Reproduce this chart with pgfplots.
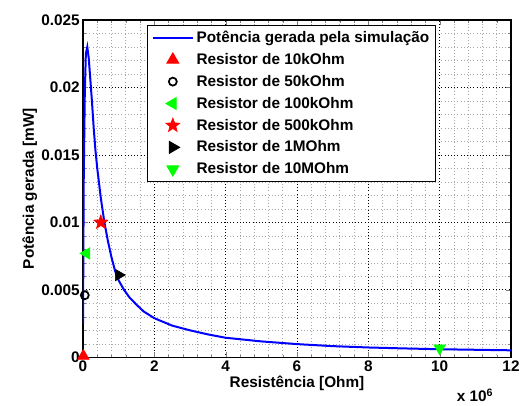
\documentclass[border=0pt]{standalone}
\usepackage{fontspec}
\setmainfont{Liberation Sans}
\usepackage{pgfplots}
\pgfplotsset{compat=1.18}
\pgfdeclareplotmark{fstar}{%
  \pgfpathmoveto{\pgfpointpolar{90}{\pgfplotmarksize}}%
  \pgfpathlineto{\pgfpointpolar{126}{0.42\pgfplotmarksize}}%
  \pgfpathlineto{\pgfpointpolar{162}{\pgfplotmarksize}}%
  \pgfpathlineto{\pgfpointpolar{198}{0.42\pgfplotmarksize}}%
  \pgfpathlineto{\pgfpointpolar{234}{\pgfplotmarksize}}%
  \pgfpathlineto{\pgfpointpolar{270}{0.42\pgfplotmarksize}}%
  \pgfpathlineto{\pgfpointpolar{306}{\pgfplotmarksize}}%
  \pgfpathlineto{\pgfpointpolar{342}{0.42\pgfplotmarksize}}%
  \pgfpathlineto{\pgfpointpolar{18}{\pgfplotmarksize}}%
  \pgfpathlineto{\pgfpointpolar{54}{0.42\pgfplotmarksize}}%
  \pgfpathclose
  \pgfusepathqfillstroke}
\begin{document}
\begin{tikzpicture}
\begin{axis}[
  scale only axis, width=321pt, height=253pt,
  xmin=0, xmax=12, ymin=0, ymax=0.025,
  xtick={0,2,...,12}, xticklabels={0,2,4,6,8,10,12},
  ytick={0,0.005,0.01,0.015,0.02,0.025},
  yticklabels={0,0.005,0.01,0.015,0.02,0.025},
  scaled y ticks=false,
  minor x tick num=4, minor y tick num=4,
  grid=both,
  major grid style={black, dotted, line width=0.6pt},
  minor grid style={black!35, dotted, line width=0.5pt},
  tick align=inside, axis line style={line width=1pt},
  major tick length=4pt, minor tick length=2pt,
  every tick label/.append style={font=\bfseries\fontsize{11.5}{13.5}\selectfont},
  xticklabel style={yshift=1pt}, yticklabel style={xshift=1pt},
  xlabel={Resistência [Ohm]}, ylabel={Potência gerada [mW]},
  label style={font=\bfseries\fontsize{11.5}{13.5}\selectfont},
  xlabel style={at={(rel axis cs:0.5,0)}, yshift=-19.5pt, anchor=center},
  ylabel style={at={(rel axis cs:0,0.5)}, yshift=40pt, anchor=center},
  legend style={at={(0.15,0.985)}, anchor=north west, draw=black, line width=0.8pt,
    font=\bfseries\fontsize{11.5}{13.5}\selectfont, row sep=2.6pt, inner xsep=3pt, inner ysep=2pt},
  legend cell align=left,
  legend image code/.code={\draw[mark repeat=2,mark phase=2,#1] plot coordinates {(0cm,0cm) (0.53cm,0cm) (1.06cm,0cm)};},
]
\addplot[blue, line width=1.5pt] coordinates {
(0.001,0.0025)(0.02,0.013)(0.05,0.0195)(0.08,0.0225)(0.12,0.023)(0.16,0.0222)
(0.2,0.0208)(0.25,0.0190)(0.3,0.0170)(0.35,0.0153)(0.4,0.0140)(0.5,0.0118)
(0.6,0.0100)(0.7,0.0086)(0.8,0.0074)(0.9,0.0064)(1.0,0.0057)(1.15,0.0050)
(1.3,0.00445)(1.5,0.0039)(1.7,0.0034)(2.0,0.0029)(2.5,0.00235)(3,0.0020)
(3.5,0.0017)(4,0.00145)(5,0.00118)(6,0.00098)(7,0.00083)(8,0.00073)
(9,0.00066)(10,0.00060)(11,0.00056)(12,0.00052)};
\addlegendentry{Potência gerada pela simulação}
\addplot[only marks, mark=triangle*, mark size=5pt, color=red] coordinates {(0.01,0.0001)};
\addlegendentry{Resistor de 10kOhm}
\addplot[only marks, mark=o, mark size=3pt, line width=1.3pt, color=black] coordinates {(0.05,0.0046)};
\addlegendentry{Resistor de 50kOhm}
\addplot[only marks, mark=triangle*, mark size=5pt, mark options={rotate=90}, color=green] coordinates {(0.1,0.0077)};
\addlegendentry{Resistor de 100kOhm}
\addplot[only marks, mark=fstar, mark size=5.5pt, line width=0.5pt, color=red] coordinates {(0.5,0.0100)};
\addlegendentry{Resistor de 500kOhm}
\addplot[only marks, mark=triangle*, mark size=5pt, mark options={rotate=-90}, color=black] coordinates {(1,0.0061)};
\addlegendentry{Resistor de 1MOhm}
\addplot[only marks, mark=triangle*, mark size=5pt, mark options={rotate=180}, color=green] coordinates {(10,0.00067)};
\addlegendentry{Resistor de 10MOhm}
\coordinate (xs) at (rel axis cs:0.916,0);
\coordinate (sw) at (rel axis cs:0,0);
\coordinate (ne) at (rel axis cs:1,1);
\end{axis}
\node[font=\bfseries\fontsize{11.5}{13.5}\selectfont, inner sep=1pt, yshift=-28.5pt] at (xs) {x 10\textsuperscript{6}};
\pgfresetboundingbox
\path[use as bounding box] ([xshift=-62.25pt,yshift=-36pt]sw) rectangle ([xshift=7.5pt,yshift=15pt]ne);
\end{tikzpicture}
\end{document}
